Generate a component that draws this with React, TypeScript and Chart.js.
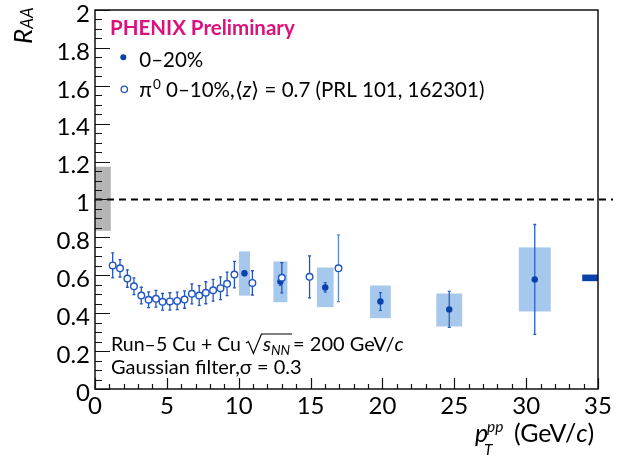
import { useEffect, useRef } from 'react';
import { Chart, registerables } from 'chart.js';
Chart.register(...registerables);

const FONT = 'Lato, "Open Sans", sans-serif';

// pi0 0-10% (PRL 101, 162301), open circles
const openX = [1.23, 1.74, 2.25, 2.71, 3.22, 3.73, 4.24, 4.70, 5.21, 5.72, 6.23, 6.74, 7.25, 7.71, 8.22, 8.73, 9.19, 9.70, 10.95, 13.0, 14.93, 16.94];
const openY = [0.652, 0.637, 0.583, 0.542, 0.493, 0.471, 0.476, 0.460, 0.462, 0.465, 0.472, 0.502, 0.493, 0.508, 0.521, 0.532, 0.555, 0.604, 0.560, 0.587, 0.592, 0.637];
const openErr = [0.066, 0.046, 0.046, 0.044, 0.044, 0.042, 0.044, 0.044, 0.046, 0.046, 0.046, 0.053, 0.052, 0.058, 0.057, 0.060, 0.062, 0.070, 0.064, 0.080, 0.111, 0.176];

// 0-20%, filled circles
const fillX = [10.40, 12.90, 16.02, 19.86, 24.65, 30.60];
const fillY = [0.611, 0.567, 0.536, 0.462, 0.420, 0.578];
const fillStat = [0.012, 0.020, 0.025, 0.047, 0.095, 0.290];
const sysLow = [0.493, 0.458, 0.432, 0.374, 0.330, 0.409];
const sysHigh = [0.726, 0.673, 0.641, 0.546, 0.504, 0.747];
const sysWidth = [0.77, 0.97, 1.16, 1.44, 1.80, 2.22];

// global uncertainty boxes
const ppBoxX = [0, 1.1];
const ppBoxY = [0.835, 1.173];
const normBoxX = [33.9, 35];
const normBoxY = [0.569, 0.604];

const xTicks = [0, 5, 10, 15, 20, 25, 30, 35];
const yTicks = [0, 0.2, 0.4, 0.6, 0.8, 1.0, 1.2, 1.4, 1.6, 1.8, 2.0];

const BLUE_DARK = '#0a40aa';
const BLUE_OPEN = '#1f56c4';
const BOX_BLUE = '#a6c8ec';

type Run = { t: string; size: number; style?: string; weight?: string; dy?: number; dx?: number; color?: string };
function drawRuns(ctx: CanvasRenderingContext2D, x: number, y: number, runs: Run[]) {
  let cx = x;
  for (const r of runs) {
    ctx.font = `${r.style ?? 'normal'} ${r.weight ?? 'normal'} ${r.size}px ${FONT}`;
    ctx.fillStyle = r.color ?? '#000';
    cx += r.dx ?? 0;
    ctx.fillText(r.t, cx, y + (r.dy ?? 0));
    cx += ctx.measureText(r.t).width;
  }
  return cx;
}

const phenixPlugin = {
  id: 'phenix',
  beforeDatasetsDraw(chart: any) {
    const { ctx, scales } = chart;
    const x = scales.x, y = scales.y;
    const rect = (x0: number, x1: number, y0: number, y1: number, c: string) => {
      const l = x.getPixelForValue(x0), r = x.getPixelForValue(x1);
      const t = y.getPixelForValue(y1), b = y.getPixelForValue(y0);
      ctx.fillStyle = c;
      ctx.fillRect(l, t, r - l, b - t);
    };
    ctx.save();
    rect(ppBoxX[0], ppBoxX[1], ppBoxY[0], ppBoxY[1], '#b5b5b5');
    fillX.forEach((v, i) => rect(v - sysWidth[i] / 2, v + sysWidth[i] / 2, sysLow[i], sysHigh[i], BOX_BLUE));
    rect(normBoxX[0], normBoxX[1], normBoxY[0], normBoxY[1], BLUE_DARK);

    // dashed unity line
    ctx.strokeStyle = '#000';
    ctx.lineWidth = 1.8;
    ctx.setLineDash([7, 5]);
    ctx.beginPath();
    const y1 = y.getPixelForValue(1);
    ctx.moveTo(x.getPixelForValue(0), y1);
    ctx.lineTo(x.getPixelForValue(35) + 15, y1);
    ctx.stroke();
    ctx.setLineDash([]);

    // error bars
    const bar = (xv: number, yv: number, e: number, c: string, cap: number) => {
      const px = x.getPixelForValue(xv);
      const t = y.getPixelForValue(yv + e), b = y.getPixelForValue(yv - e);
      ctx.strokeStyle = c;
      ctx.lineWidth = 1.3;
      ctx.beginPath();
      ctx.moveTo(px, t); ctx.lineTo(px, b);
      ctx.moveTo(px - cap, t); ctx.lineTo(px + cap, t);
      ctx.moveTo(px - cap, b); ctx.lineTo(px + cap, b);
      ctx.stroke();
    };
    openX.forEach((v, i) => bar(v, openY[i], openErr[i], i === openX.length - 1 ? '#5a86d2' : BLUE_OPEN, 1.5));
    fillX.forEach((v, i) => bar(v, fillY[i], fillStat[i], '#2a5ec4', 1.5));
    ctx.restore();
  },
  afterDraw(chart: any) {
    const { ctx, chartArea: a, scales } = chart;
    const x = scales.x, y = scales.y;
    ctx.save();
    // frame
    ctx.strokeStyle = '#111';
    ctx.lineWidth = 1.5;
    ctx.strokeRect(a.left, a.top, a.right - a.left, a.bottom - a.top);
    // ticks
    ctx.lineWidth = 1.2;
    ctx.beginPath();
    for (let v = 0; v <= 2.0001; v += 0.05) {
      const py = Math.round(y.getPixelForValue(v)) + 0.5;
      const major = Math.abs(v / 0.2 - Math.round(v / 0.2)) < 1e-6;
      ctx.moveTo(a.left, py);
      ctx.lineTo(a.left + (major ? 15 : 7), py);
    }
    for (let v = 0; v <= 35.0001; v += 1) {
      const px = Math.round(x.getPixelForValue(v)) + 0.5;
      const major = v % 5 === 0;
      ctx.moveTo(px, a.bottom);
      ctx.lineTo(px, a.bottom - (major ? 11 : 5));
    }
    ctx.stroke();

    ctx.textBaseline = 'alphabetic';
    ctx.textAlign = 'left';
    // PHENIX label
    drawRuns(ctx, 110, 35, [{ t: 'PHENIX Preliminary', size: 20.5, weight: 'bold', color: '#dc127c' }]);

    // legend
    ctx.fillStyle = BLUE_DARK;
    ctx.beginPath();
    ctx.arc(123.3, 57.3, 3, 0, Math.PI * 2);
    ctx.fill();
    drawRuns(ctx, 139.3, 66.7, [{ t: '0–20%', size: 20.5 }]);
    ctx.strokeStyle = BLUE_OPEN;
    ctx.lineWidth = 1.3;
    ctx.fillStyle = '#fff';
    ctx.beginPath();
    ctx.arc(124.3, 89.3, 3.2, 0, Math.PI * 2);
    ctx.fill();
    ctx.stroke();
    drawRuns(ctx, 139.3, 96.7, [
      { t: 'π', size: 20.5 },
      { t: '0', size: 13.5, dy: -8, dx: 1 },
      { t: ' 0–10%,⟨', size: 20.5 },
      { t: 'z', size: 20.5, style: 'italic' },
      { t: '⟩ = 0.7 (PRL 101, 162301)', size: 20.5 },
    ]);

    // bottom text
    const cx = drawRuns(ctx, 111, 351, [{ t: 'Run–5 Cu + Cu ', size: 19.5 }]);
    const r0 = cx;
    ctx.strokeStyle = '#000';
    ctx.lineWidth = 1.2;
    const sx = drawRuns(ctx, r0 + 17, 351, [{ t: 's', size: 20, style: 'italic' }, { t: 'NN', size: 13.5, style: 'italic', dy: 4 }]);
    ctx.beginPath();
    ctx.moveTo(r0, 343);
    ctx.lineTo(r0 + 2.5, 341.5);
    ctx.lineTo(r0 + 7.5, 353.5);
    ctx.lineTo(r0 + 15.5, 334);
    ctx.lineTo(sx + 2, 334);
    ctx.stroke();
    drawRuns(ctx, sx + 3, 351, [{ t: '= 200 GeV/', size: 20 }, { t: 'c', size: 20, style: 'italic' }]);
    drawRuns(ctx, 111, 373.5, [{ t: 'Gaussian filter,σ = 0.3', size: 20 }]);

    // x axis title
    drawRuns(ctx, 475, 442, [{ t: 'p', size: 25, style: 'italic' }]);
    drawRuns(ctx, 487, 432, [{ t: 'pp', size: 15.5, style: 'italic' }]);
    drawRuns(ctx, 484, 455, [{ t: 'T', size: 15.5, style: 'italic' }]);
    drawRuns(ctx, 514, 442, [{ t: '(GeV/', size: 25 }, { t: 'c', size: 25, style: 'italic' }, { t: ')', size: 25 }]);

    // y axis title (rotated)
    ctx.translate(32, 44);
    ctx.rotate(-Math.PI / 2);
    drawRuns(ctx, 0, 0, [{ t: 'R', size: 26, style: 'italic' }, { t: 'AA', size: 17, style: 'italic', dy: 1 }]);
    ctx.restore();
  },
};

export default function App() {
  const ref = useRef<HTMLCanvasElement | null>(null);
  useEffect(() => {
    document.body.style.margin = '0';
    const canvas = ref.current!;
    const chart = new Chart(canvas, {
      type: 'scatter',
      data: {
        datasets: [
          {
            label: 'pi0 0-10%',
            data: openX.map((v, i) => ({ x: v, y: openY[i] })),
            pointRadius: 3.3,
            pointBorderWidth: 1.4,
            pointBackgroundColor: '#fff',
            pointBorderColor: BLUE_OPEN,
            showLine: false,
          },
          {
            label: '0-20%',
            data: fillX.map((v, i) => ({ x: v, y: fillY[i] })),
            pointRadius: 3.2,
            pointBorderWidth: 0,
            pointBackgroundColor: BLUE_DARK,
            pointBorderColor: BLUE_DARK,
            showLine: false,
          },
        ],
      },
      options: {
        responsive: false,
        animation: false,
        devicePixelRatio: 1,
        layout: { padding: { top: 10, right: 39, left: 0, bottom: 0 } },
        plugins: { legend: { display: false }, tooltip: { enabled: false } },
        scales: {
          x: {
            type: 'linear',
            min: 0,
            max: 35,
            afterBuildTicks: (s: any) => { s.ticks = xTicks.map((v) => ({ value: v })); },
            afterFit: (s: any) => { s.height = 68; s.paddingLeft = 0; s.paddingRight = 0; },
            grid: { display: false, drawTicks: false },
            border: { display: false },
            ticks: { font: { family: FONT, size: 24 }, color: '#000', padding: 3, maxRotation: 0, autoSkip: false },
          },
          y: {
            type: 'linear',
            min: 0,
            max: 2,
            afterBuildTicks: (s: any) => { s.ticks = yTicks.map((v) => ({ value: v })); },
            afterFit: (s: any) => { s.width = 95; s.paddingTop = 0; s.paddingBottom = 0; },
            grid: { display: false, drawTicks: false },
            border: { display: false },
            ticks: {
              font: { family: FONT, size: 24 },
              color: '#000',
              padding: 5,
              labelOffset: 4,
              autoSkip: false,
              callback: (v: any) => String(Number(Number(v).toFixed(1))),
            },
          },
        },
      },
      plugins: [phenixPlugin],
    });
    return () => chart.destroy();
  }, []);
  return <canvas ref={ref} width={637} height={457} style={{ display: 'block' }} />;
}
